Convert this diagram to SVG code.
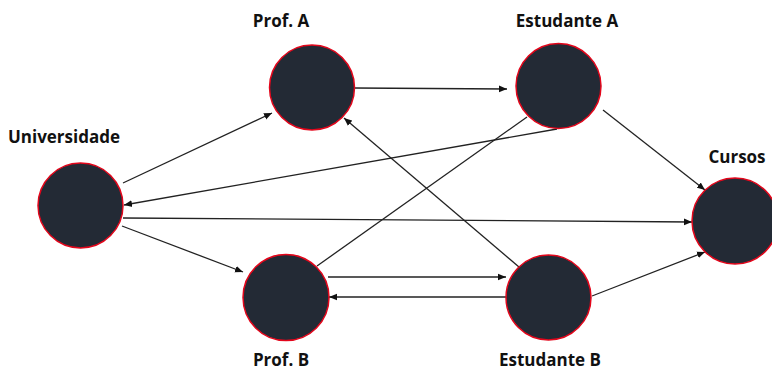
<svg xmlns="http://www.w3.org/2000/svg" width="772" height="372" viewBox="0 0 772 372">
  <style>
    .node circle { fill: #232a35; stroke: #e3061b; stroke-width: 1.5; }
    .label { font-family: "Open Sans", "Noto Sans", "DejaVu Sans", sans-serif; font-weight: 700; font-size: 17px; fill: #111; text-anchor: middle; }
    .edge { stroke: #222; stroke-width: 1.3; fill: none; }
    .arrow { marker-end: url(#head); }
  </style>
  <defs>
    <marker id="head" viewBox="0 0 10 10" refX="10" refY="5" markerWidth="8" markerHeight="8" markerUnits="userSpaceOnUse" orient="auto">
      <path d="M0,0.8 L10,5 L0,9.2 Z" fill="#111"/>
    </marker>
  </defs>
  <rect width="772" height="372" fill="#ffffff"/>

  <g id="edges">
    <line class="edge arrow" x1="123" y1="183" x2="272" y2="113"/>
    <line class="edge arrow" x1="557" y1="129" x2="124" y2="205"/>
    <line class="edge arrow" x1="123" y1="218" x2="692" y2="222"/>
    <line class="edge arrow" x1="122" y1="226" x2="243" y2="272"/>
    <line class="edge arrow" x1="354" y1="88" x2="507" y2="89"/>
    <line class="edge arrow" x1="603" y1="110" x2="705" y2="190"/>
    <line class="edge arrow" x1="519" y1="267" x2="344" y2="118"/>
    <line class="edge" x1="317" y1="266" x2="527" y2="117"/>
    <line class="edge arrow" x1="328" y1="277" x2="506" y2="277"/>
    <line class="edge arrow" x1="506" y1="297" x2="329" y2="297"/>
    <line class="edge arrow" x1="592" y1="296" x2="705" y2="252"/>
  </g>

  <g id="universidade" class="node">
    <circle cx="80.5" cy="205.5" r="42.5"/>
    <text class="label" x="64" y="143">Universidade</text>
  </g>
  <g id="prof-a" class="node">
    <circle cx="312" cy="87.5" r="42.5"/>
    <text class="label" x="281" y="27">Prof. A</text>
  </g>
  <g id="estudante-a" class="node">
    <circle cx="558.5" cy="86" r="42.5"/>
    <text class="label" x="567" y="27">Estudante A</text>
  </g>
  <g id="prof-b" class="node">
    <circle cx="286" cy="297.5" r="43"/>
    <text class="label" x="281" y="366">Prof. B</text>
  </g>
  <g id="estudante-b" class="node">
    <circle cx="548.5" cy="297.5" r="42.5"/>
    <text class="label" x="550" y="366">Estudante B</text>
  </g>
  <g id="cursos" class="node">
    <circle cx="735" cy="221" r="43"/>
    <text class="label" x="737" y="163">Cursos</text>
  </g>
</svg>
